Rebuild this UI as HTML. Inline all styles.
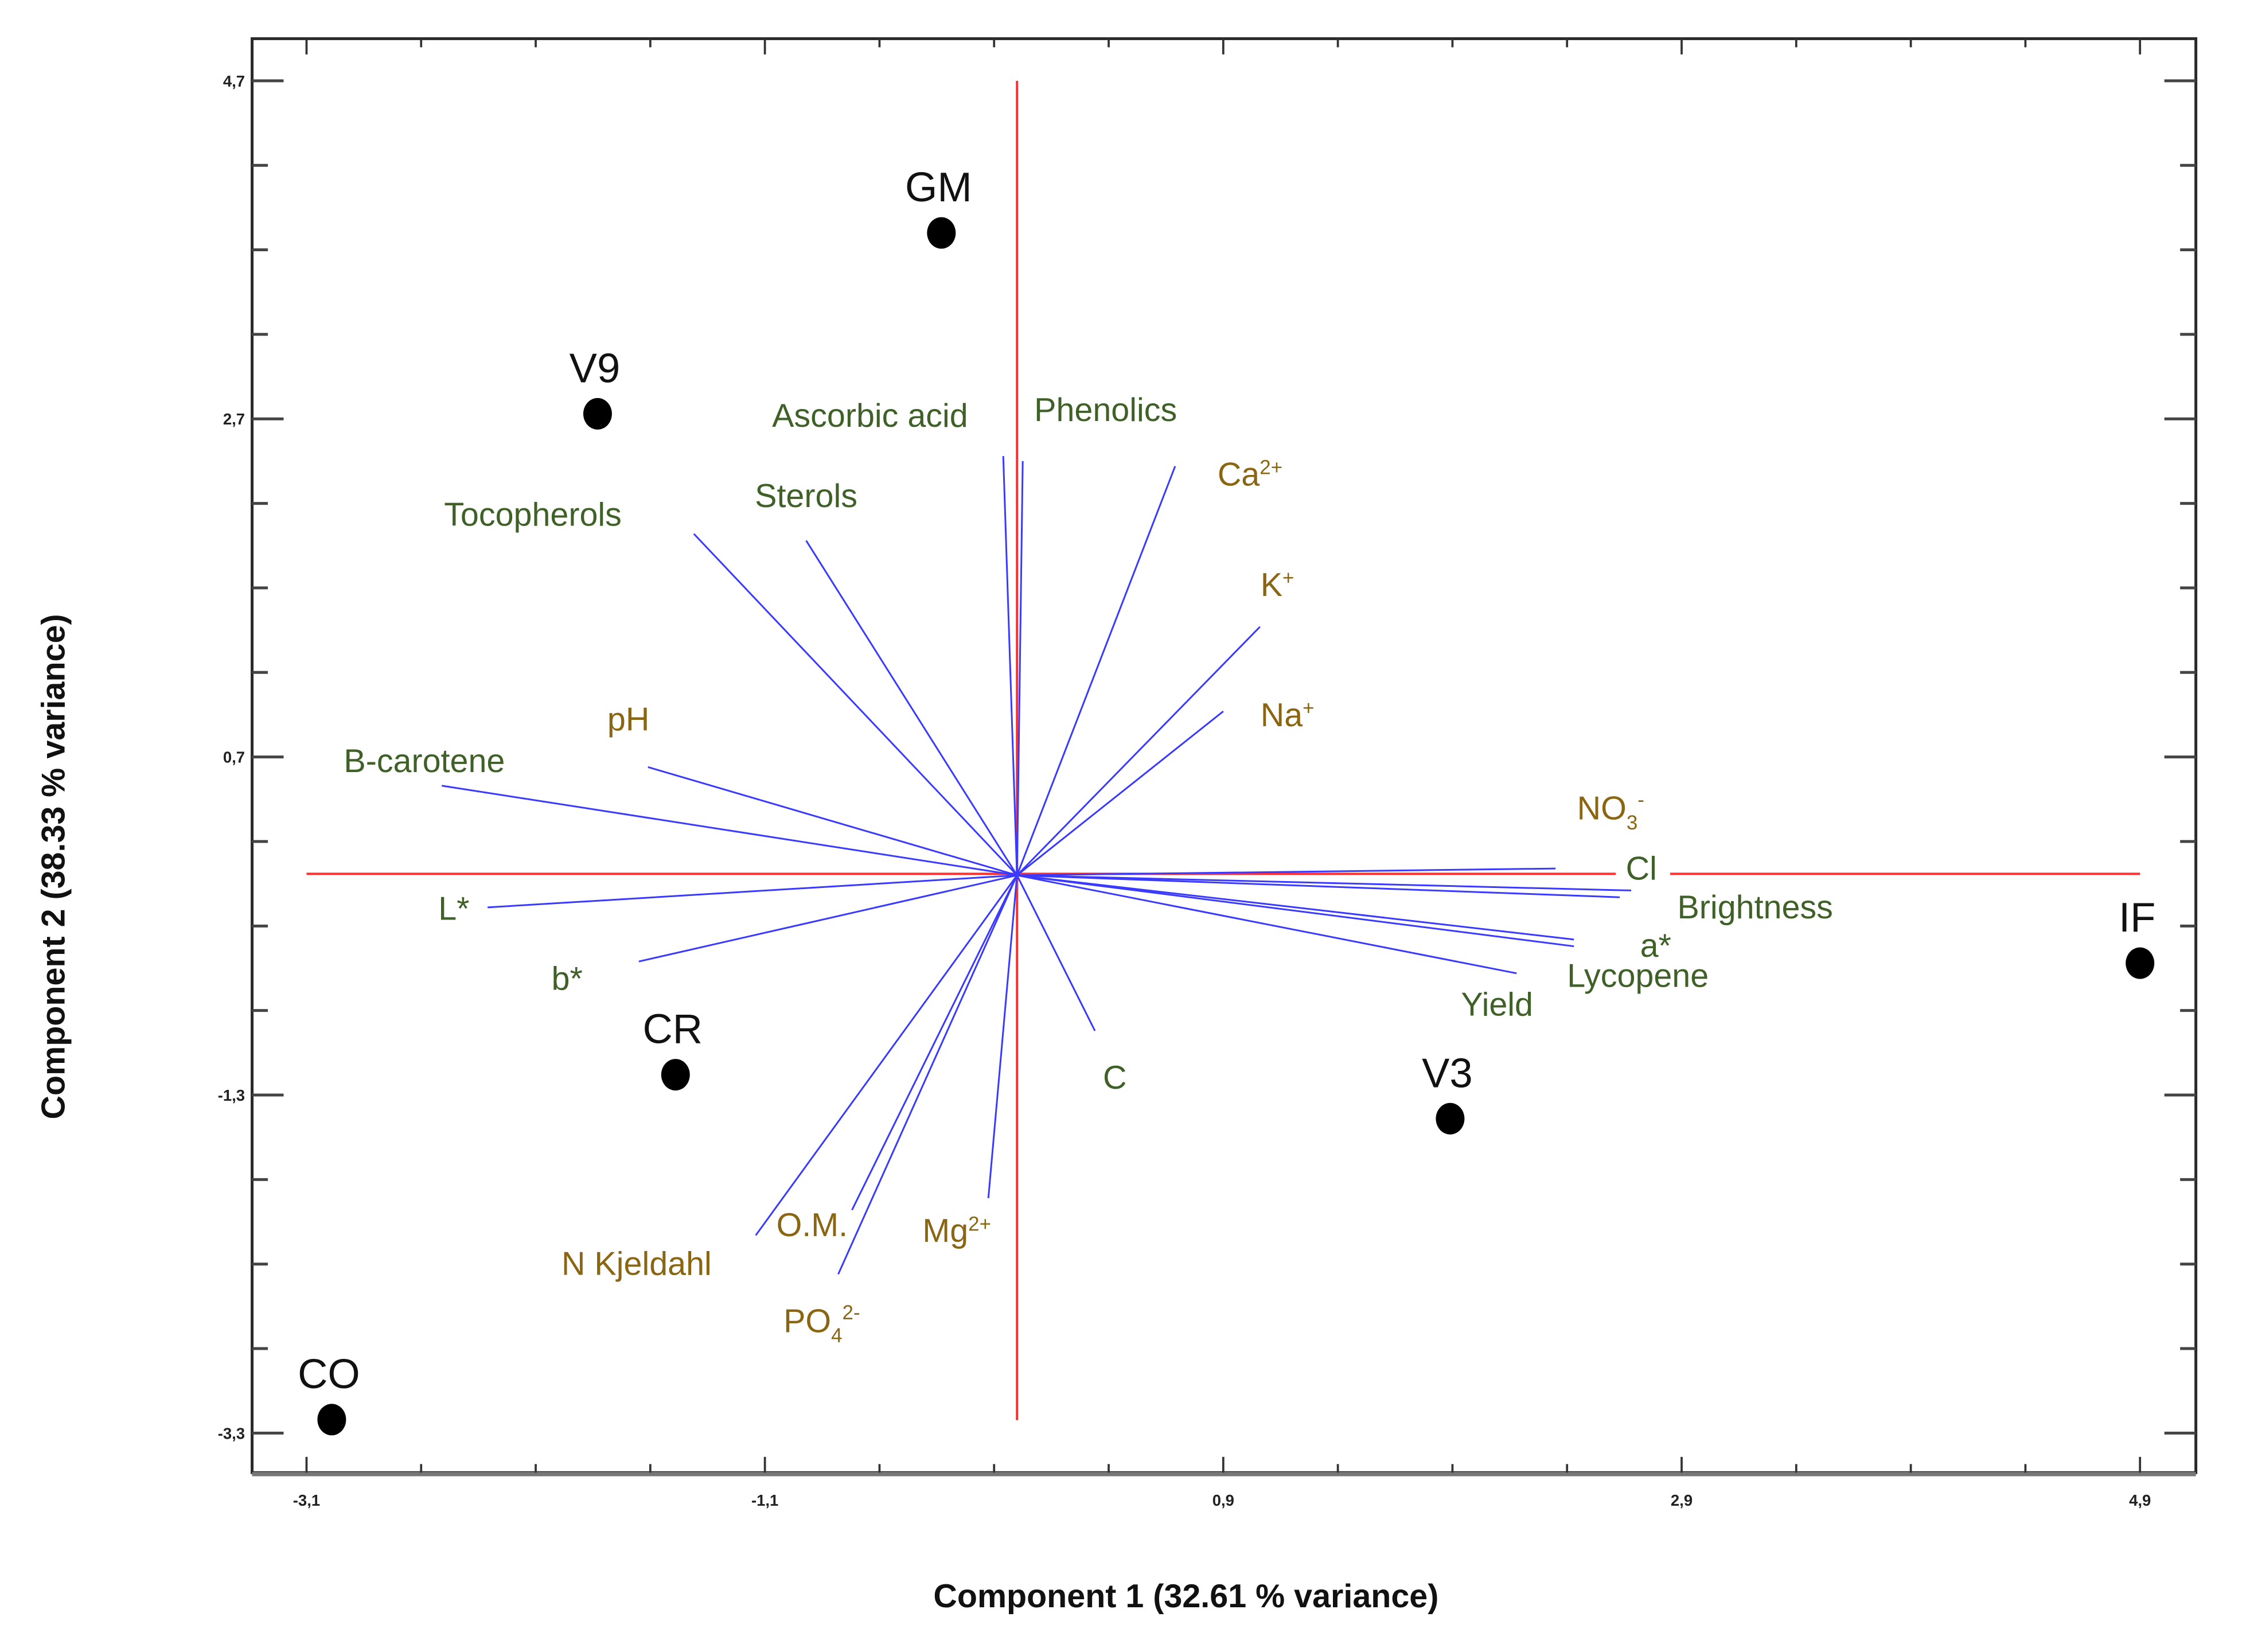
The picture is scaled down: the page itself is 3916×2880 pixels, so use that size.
<!DOCTYPE html>
<html><head><meta charset="utf-8">
<style>
html,body{margin:0;padding:0;background:#fff;}
svg{display:block;}
text{font-family:"Liberation Sans",sans-serif;}
</style></head>
<body>
<svg id="chart" width="3916" height="2880" viewBox="0 0 1568 1153.2" preserveAspectRatio="none" xmlns="http://www.w3.org/2000/svg">
<g id="frame"></g>
<g id="vectors"></g>
<g id="vlabels"></g>
<g id="points"></g>
</svg>
<script>
// ---- data ----
const xTickLabels = ["-3,1","-1,1","0,9","2,9","4,9"];
const xTickValues = [-3.1,-1.1,0.9,2.9,4.9];
const yTickLabels = ["4,7","2,7","0,7","-1,3","-3,3"];
const yTickValues = [4.7,2.7,0.7,-1.3,-3.3];
const pointNames = ["GM","V9","CR","CO","V3","IF"];
const pointX = [-0.33,-1.83,-1.49,-2.99,1.89,4.90];
const pointY = [3.80,2.73,-1.18,-3.22,-1.44,-0.52];
const varNames = ["Ascorbic acid","Phenolics","Ca","K","Na","Sterols","Tocopherols","pH","B-carotene","L*","b*","N Kjeldahl","O.M.","PO4","Mg","C","NO3","Cl","Brightness","a*","Lycopene","Yield"];
const varX = [-0.06,0.025,0.69,1.06,0.90,-0.92,-1.41,-1.61,-2.51,-2.31,-1.65,-1.14,-0.72,-0.78,-0.125,0.34,2.35,2.68,2.63,2.43,2.43,2.18];
const varY = [2.48,2.45,2.42,1.47,0.97,1.98,2.02,0.64,0.53,-0.19,-0.51,-2.13,-1.98,-2.36,-1.91,-0.92,0.04,-0.09,-0.13,-0.38,-0.42,-0.58];

// ---- scales ----
const X0=710, XU=160, Y0=611, YU=118;
const sx = v => X0 + v*XU;
const sy = v => Y0 - v*YU;
const NS="http://www.w3.org/2000/svg";
function mk(tag, attrs, parent){const e=document.createElementNS(NS,tag);for(const k in attrs)e.setAttribute(k,attrs[k]);parent.appendChild(e);return e;}

const frame=document.getElementById('frame');
const L=176,T=27,R=1533,B=1028;
const fr=mk('rect',{x:L,y:T,width:R-L,height:B-T,fill:'none',stroke:'#2a2a2a','stroke-width':2},frame);


const bb=mk('line',{x1:L,y1:B+1,x2:R,y2:B+1,stroke:'#777','stroke-width':3},frame);



// ticks
for(let v=-3.1; v<=4.91; v+=0.5){
  const x=sx(v); const major=xTickValues.some(t=>Math.abs(t-v)<1e-6);
  const len=major?11:6;
  const t1=mk('line',{x1:x,y1:B,x2:x,y2:B-len,stroke:'#333','stroke-width':1.5},frame);
  
  
  const t2=mk('line',{x1:x,y1:T,x2:x,y2:T+len,stroke:'#333','stroke-width':1.5},frame);
  
  
}
for(let v=-3.3; v<=4.71; v+=0.5){
  const y=sy(v); const major=yTickValues.some(t=>Math.abs(t-v)<1e-6);
  const len=major?22:11;
  const t1=mk('line',{x1:L,y1:y,x2:L+len,y2:y,stroke:'#444','stroke-width':2},frame);
  
  
  const t2=mk('line',{x1:R,y1:y,x2:R-len,y2:y,stroke:'#444','stroke-width':2},frame);
  
  
}
xTickLabels.forEach((s,i)=>{
  const t=mk('text',{x:sx(xTickValues[i]),y:1051,'font-size':11,'font-weight':'bold','text-anchor':'middle',fill:'#222'},frame);
  t.textContent=s;
  
  
});
yTickLabels.forEach((s,i)=>{
  const t=mk('text',{x:171,y:sy(yTickValues[i])+4,'font-size':11,'font-weight':'bold','text-anchor':'end',fill:'#222'},frame);
  t.textContent=s;
  
  
});
const xt=mk('text',{x:828,y:1122,'font-size':23,'font-weight':'bold','text-anchor':'middle',fill:'#111'},frame);
xt.textContent="Component 1 (32.61 % variance)";


const yt=mk('text',{x:0,y:0,'font-size':23,'font-weight':'bold','text-anchor':'middle',fill:'#111',transform:'translate(45,605) rotate(-90)'},frame);
yt.textContent="Component 2 (38.33 % variance)";



// red axes
const rv=mk('line',{x1:sx(0),y1:sy(4.7),x2:sx(0),y2:sy(-3.3)-9,stroke:'#ff3030','stroke-width':1.6},frame);


const rh=mk('line',{x1:sx(-3.1),y1:Y0-1,x2:sx(4.9),y2:Y0-1,stroke:'#ff3030','stroke-width':1.6},frame);



// vectors
const vg=document.getElementById('vectors');
varNames.forEach((n,i)=>{
  const l=mk('line',{x1:sx(0),y1:sy(0),x2:sx(varX[i]),y2:sy(varY[i]),stroke:'#3a3aff','stroke-width':1.2},vg);
  
  
});

// variable labels (layout only)
const G='#3f6128', Y='#8a6512';
const labels=[
 ["Ascorbic acid",539,298,G],["Phenolics",722,294,G],["Ca<tspan font-size='14' dy='-8'>2+</tspan>",850,339,Y],
 ["K<tspan font-size='14' dy='-8'>+</tspan>",880,416,Y],["Na<tspan font-size='14' dy='-8'>+</tspan>",880,507,Y],
 ["Sterols",527,354,G],["Tocopherols",310,367,G],["pH",424,510,Y],["B-carotene",240,539,G],
 ["L*",306,642,G],["b*",385,691,G],["N Kjeldahl",392,890,Y],["O.M.",542,863,Y],
 ["PO<tspan font-size='14' dy='7'>4</tspan><tspan font-size='14' dy='-16'>2-</tspan>",547,930,Y],
 ["Mg<tspan font-size='14' dy='-8'>2+</tspan>",644,867,Y],["C",770,760,G],
 ["NO<tspan font-size='14' dy='7'>3</tspan><tspan font-size='14' dy='-16'>-</tspan>",1101,572,Y],
 ["Cl",1135,614,G],["Brightness",1171,641,G],["a*",1145,668,G],["Lycopene",1094,689,G],["Yield",1020,709,G]
];
const lg=document.getElementById('vlabels');
labels.forEach(a=>{
  const t=mk('text',{x:a[1],y:a[2],'font-size':23,fill:a[3]},lg);
  t.innerHTML=a[0];
  
  
});
const gap=mk('rect',{x:1128,y:Y0-3,width:38,height:4,fill:'#fff'},lg);


lg.insertBefore(gap,lg.firstChild);

// points
const pg=document.getElementById('points');
pointNames.forEach((n,i)=>{
  const c=mk('ellipse',{cx:sx(pointX[i]),cy:sy(pointY[i]),rx:10,ry:11,fill:'#000'},pg);
  
  
  const t=mk('text',{x:sx(pointX[i])-2,y:sy(pointY[i])-22,'font-size':29,'text-anchor':'middle',fill:'#111'},pg);
  t.textContent=n;
  
  
});
</script>
</body></html>
